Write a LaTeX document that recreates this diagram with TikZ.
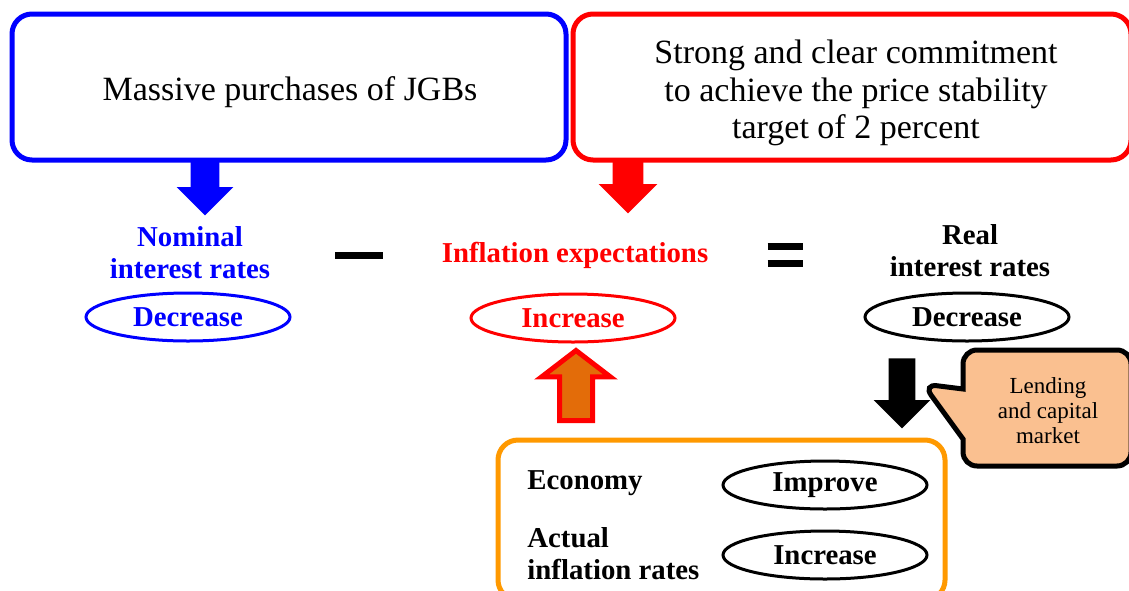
\documentclass[tikz,border=0pt]{standalone}
\usepackage{fontspec}
\setmainfont{Liberation Serif}
\usetikzlibrary{shapes.geometric,shapes.arrows,shapes.callouts}

\definecolor{orangeline}{RGB}{255,153,0}
\definecolor{arrowfill}{RGB}{227,108,9}
\definecolor{peach}{RGB}{250,192,144}

\tikzset{
  roundbox/.style={draw, line width=2.5pt, rounded corners=10pt},
  boxtext/.style={align=center, font=\fontsize{17}{18.75}\selectfont},
  lbl/.style={align=center, font=\fontsize{14.4}{16}\selectfont\bfseries},
  oval/.style={ellipse, draw, line width=1.5pt, minimum width=102pt, minimum height=24pt, inner sep=0pt, font=\fontsize{14.4}{16}\selectfont\bfseries},
  bigarrow/.style={single arrow, inner sep=0pt, anchor=tail, minimum height=#1}
}

\begin{document}
\begin{tikzpicture}[x=0.5pt, y=-0.5pt]
\useasboundingbox (0,0) rectangle (1129,590);
% top boxes
\node[roundbox, draw=blue, minimum width=277pt, minimum height=73pt] (jgb) at (289,87) {};
\node[boxtext] (jgbtext) at (290,92) {Massive purchases of JGBs};
\node[roundbox, draw=red, minimum width=279pt, minimum height=73pt] (commit) at (852,87) {};
\node[boxtext] (committext) at (856,93) {Strong and clear commitment\\to achieve the price stability\\target of 2 percent};

% equation row
\node[lbl, text=blue] (nominal) at (190,253) {Nominal\\interest rates};
\node[oval, draw=blue, text=blue] (nomdec) at (188,317) {Decrease};
\node[inner sep=0pt] (minus) at (359,255) {\rule{24pt}{3.5pt}};
\node[lbl, text=red] (inflexp) at (575,255) {Inflation expectations};
\node[oval, draw=red, text=red] (inflinc) at (573,318) {Increase};
\node[inner sep=0pt] (equals) at (785,255) {\vbox{\hrule width 17.5pt height 3.5pt \vskip 5pt \hrule width 17.5pt height 3.5pt}};
\node[lbl] (real) at (970,251) {Real\\interest rates};
\node[oval] (realdec) at (967,317) {Decrease};

% block arrows
\node[bigarrow=27.5pt, fill=blue, rotate=-90, inner ysep=7pt, single arrow head extend=7pt] (arrowblue) at (205,160) {};
\node[bigarrow=26.5pt, fill=red, rotate=-90, inner ysep=7.5pt, single arrow head extend=7pt] (arrowred) at (628,160) {};
\node[bigarrow=35pt, fill=black, rotate=-90, inner ysep=6.5pt, single arrow head extend=7.5pt] (arrowblack) at (902,358) {};
\node[bigarrow=35pt, fill=arrowfill, draw=red, line width=2.5pt, rotate=90, inner ysep=7pt, single arrow head extend=9pt,
  single arrow tip angle=105] (arrowup) at (576,423) {};

% callout
\coordinate (calloutTip) at (923,384);
\node[rectangle callout, draw, line width=2.5pt, fill=peach, rounded corners=7pt, minimum width=84pt, minimum height=58pt,
  callout absolute pointer={(calloutTip)}, callout pointer width=25pt] (lending) at (1047,408) {};
\node[align=center, font=\fontsize{11.5}{12.5}\selectfont] (lendingtext) at (1048,411) {Lending\\and capital\\market};

% bottom box
\node[roundbox, draw=orangeline, minimum width=223.5pt, minimum height=80pt] (economybox) at (721.5,520) {};
\node[lbl, anchor=west, inner xsep=0pt] (economy) at (527,483) {Economy};
\node[lbl, anchor=west, inner xsep=0pt, align=left] (actual) at (527,554) {Actual\\inflation rates};
\node[oval] (improve) at (825,485) {Improve};
\node[oval] (actinc) at (825,555) {Increase};
\end{tikzpicture}
\end{document}
